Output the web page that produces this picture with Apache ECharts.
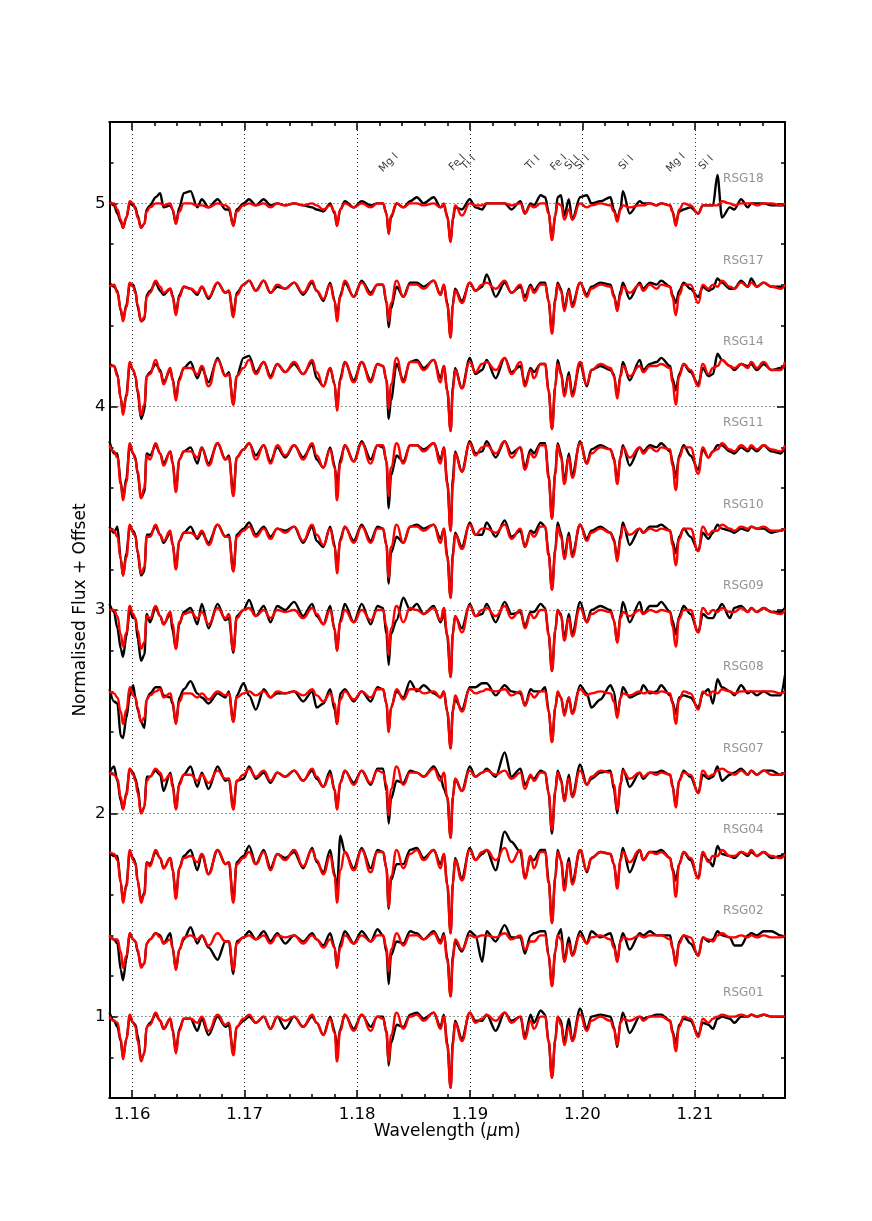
<!DOCTYPE html>
<html>
<head>
<meta charset="utf-8">
<style>
  html, body { margin: 0; background: #fff; }
  #main { width: 872px; height: 1221px; }
</style>
<script src="https://cdn.jsdelivr.net/npm/echarts@6/dist/echarts.min.js"></script>
</head>
<body>
<div id="main"></div>
<script>
// wavelength grid in micron, ten per row
const wavelengths = [
  1.1580,1.1584,1.1587,1.1590,1.1592,1.1595,1.1598,1.1601,1.1603,1.1605,
  1.1608,1.1611,1.1613,1.1616,1.1621,1.1625,1.1628,1.1634,1.1636,1.1639,
  1.1642,1.1646,1.1652,1.1658,1.1662,1.1668,1.1676,1.1683,1.1686,1.1690,
  1.1693,1.1699,1.1704,1.1710,1.1717,1.1723,1.1729,1.1736,1.1744,1.1752,
  1.1760,1.1764,1.1770,1.1776,1.1780,1.1782,1.1785,1.1789,1.1797,1.1804,
  1.1812,1.1818,1.1823,1.1826,1.1828,1.1830,1.1835,1.1841,1.1847,1.1853,
  1.1859,1.1868,1.1874,1.1877,1.1880,1.1883,1.1885,1.1887,1.1893,1.1900,
  1.1905,1.1911,1.1915,1.1923,1.1931,1.1937,1.1945,1.1949,1.1954,1.1957,
  1.1963,1.1967,1.1970,1.1973,1.1976,1.1978,1.1981,1.1984,1.1988,1.1991,
  1.1998,1.2004,1.2008,1.2016,1.2025,1.2028,1.2031,1.2034,1.2036,1.2042,
  1.2051,1.2054,1.2060,1.2066,1.2070,1.2078,1.2080,1.2083,1.2086,1.2090,
  1.2096,1.2103,1.2107,1.2112,1.2116,1.2120,1.2124,1.2131,1.2135,1.2141,
  1.2147,1.2150,1.2155,1.2161,1.2168,1.2176,1.2180
]

// flux minus 1, in hundredths. obs = black spectrum, mod = red model
const obs18 = [
  1,-1,-5,-9,-12,-7,0,-1,-2,-6,
  -12,-10,-3,-1,3,5,-2,-1,-3,-10,
  -2,5,6,-2,2,-2,2,-3,-3,-11,
  -3,0,2,-1,2,-1,0,-1,0,-1,
  -2,-3,-4,0,-5,-11,-3,1,-2,1,
  -1,0,0,-5,-15,-7,0,-2,1,3,
  0,3,-2,-1,-6,-19,-8,-2,-3,2,
  -2,-3,0,0,0,-3,1,-5,0,-1,
  4,3,-4,-18,-6,3,4,-6,2,-8,
  3,4,0,1,3,-3,-8,-2,6,-5,
  1,0,0,-1,0,-1,-4,-10,-4,-3,
  -2,-5,-1,-1,-1,14,-7,-2,-3,2,
  -2,0,0,0,-1,-1,-1
]
const mod18 = [
  0,0,-3,-8,-12,-7,1,0,-3,-7,
  -12,-10,-4,-2,0,0,-1,0,-3,-10,
  -4,0,0,-1,-1,-2,0,-1,-2,-11,
  -4,-1,0,-1,0,-2,0,-1,0,-1,
  0,-1,-3,-1,-4,-11,-3,0,-2,0,
  -2,0,0,-5,-15,-6,0,-2,0,0,
  -1,0,-2,0,-7,-19,-7,-1,-6,0,
  -1,-1,0,0,0,-1,0,-5,-1,-2,
  0,0,-5,-18,-6,0,-1,-8,-3,-8,
  0,-2,-1,0,-1,-4,-9,-3,-1,-2,
  -1,-1,0,-1,0,-1,-4,-11,-3,0,
  -1,-5,-1,-1,-1,-1,1,0,-1,0,
  0,0,-1,0,0,-1,0
]
const obs17 = [
  1,-1,-3,-13,-17,-10,0,0,-3,-11,
  -18,-17,-5,-3,1,-3,-5,-2,-5,-14,
  -5,-1,-2,-5,-1,-7,1,-4,-3,-15,
  -4,0,2,-3,2,-4,-1,-2,1,-5,
  1,-3,-8,1,-8,-16,-5,1,-6,2,
  -4,0,0,-9,-21,-12,-1,-6,1,1,
  -1,2,-5,0,-9,-26,-9,-2,-8,1,
  -3,-1,5,-6,1,-4,-1,-6,0,-3,
  1,1,-8,-24,-7,1,-2,-12,-2,-10,
  1,-5,-1,1,0,-5,-12,-3,1,-7,
  1,-2,1,0,2,-1,-5,-9,-3,1,
  -2,-6,-1,-3,-2,3,1,-2,-2,2,
  -1,3,-1,1,-1,-1,-1
]
const mod17 = [
  -1,0,-4,-12,-18,-11,1,-1,-4,-10,
  -18,-16,-6,-4,2,-1,-4,-2,-6,-15,
  -6,-1,-2,-4,-1,-6,1,-4,-3,-16,
  -5,0,2,-3,2,-4,0,-2,1,-4,
  2,-3,-7,0,-8,-18,-6,2,-6,1,
  -5,0,0,-8,-18,-9,2,-6,0,0,
  -2,2,-5,0,-10,-26,-10,-3,-9,1,
  -3,0,1,-2,2,-4,0,-8,-1,-4,
  0,0,-8,-24,-8,0,-3,-13,-3,-11,
  1,-6,-2,0,-1,-6,-13,-5,-1,-4,
  0,-3,0,-2,0,-1,-6,-15,-5,0,
  0,-9,0,-2,0,-1,2,-1,-2,1,
  -1,1,-1,1,-1,-2,0
]
const obs14 = [
  1,0,-4,-16,-23,-14,1,-2,-5,-13,
  -26,-22,-5,-3,1,-2,-8,-2,-6,-16,
  -6,-1,2,-6,-1,-8,4,-5,-3,-19,
  -5,4,5,-3,2,-5,1,-3,1,-4,
  2,-6,-10,-1,-9,-21,-6,2,-7,2,
  -7,1,0,-7,-26,-17,1,-7,2,3,
  -1,3,-6,0,-12,-32,-10,-1,-11,4,
  -4,-2,3,-6,4,-3,0,-9,-1,-3,
  1,1,-12,-31,-10,3,-3,-14,-3,-14,
  1,-10,-2,0,-2,-4,-15,-4,2,-7,
  3,-2,1,2,4,0,-6,-12,-4,1,
  -3,-9,-1,-5,-4,6,3,0,-2,1,
  0,1,-2,1,-2,-1,0
]
const mod14 = [
  0,0,-5,-16,-24,-15,2,-2,-5,-12,
  -24,-19,-5,-4,3,-3,-9,-1,-7,-17,
  -7,-1,-1,-4,0,-10,3,-5,-4,-19,
  -5,-1,3,-4,2,-6,1,-3,2,-4,
  3,-3,-10,-1,-9,-22,-7,2,-8,2,
  -8,1,0,-7,-21,-9,4,-8,2,2,
  -2,3,-8,0,-12,-32,-12,-2,-11,2,
  -3,1,2,-2,4,-4,2,-10,-2,-6,
  1,1,-12,-31,-10,1,-4,-15,-5,-15,
  2,-9,-2,1,-1,-5,-16,-5,0,-5,
  0,-3,0,0,1,-1,-8,-19,-5,1,
  -2,-10,1,-4,-1,0,3,0,-1,1,
  -1,2,-1,2,-2,-2,2
]
const obs11 = [
  3,-3,-3,-17,-25,-15,1,-3,-5,-13,
  -25,-22,-3,-4,1,-3,-8,-2,-7,-21,
  -6,-2,0,-8,0,-8,2,-6,-4,-23,
  -5,-1,2,-4,1,-7,0,-5,1,-5,
  1,-6,-10,0,-9,-19,-6,1,-7,3,
  -6,1,0,-7,-30,-14,-4,-7,1,1,
  -1,2,-6,0,-17,-41,-15,-2,-12,3,
  -3,-2,3,-5,3,-3,0,-10,-1,-3,
  2,2,-14,-35,-12,2,-3,-17,-3,-14,
  3,-8,-1,1,-1,-5,-17,-4,1,-9,
  0,-2,1,0,2,-2,-7,-15,-4,1,
  -4,-11,-1,-5,-2,1,1,-2,-3,0,
  -2,0,-2,1,-2,-3,0
]
const mod11 = [
  1,-2,-5,-18,-26,-17,2,-3,-6,-12,
  -25,-20,-4,-6,2,-3,-9,-2,-8,-22,
  -6,-2,-2,-5,0,-9,2,-6,-5,-24,
  -5,-1,2,-6,1,-8,1,-4,1,-6,
  2,-4,-10,-1,-10,-26,-8,1,-7,2,
  -8,1,1,-7,-24,-10,2,-8,1,1,
  -2,2,-8,0,-18,-41,-18,-3,-12,2,
  -4,0,1,-3,3,-5,0,-11,-3,-5,
  1,1,-15,-35,-13,1,-5,-18,-5,-15,
  2,-8,-3,0,-1,-6,-18,-5,0,-5,
  0,-3,0,-2,0,-1,-9,-21,-5,0,
  0,-13,0,-5,-2,-1,2,-1,-2,1,
  -1,1,-1,1,-1,-2,1
]
const obs10 = [
  1,-2,1,-15,-23,-12,1,-1,-3,-12,
  -23,-21,-3,-3,1,-3,-7,-2,-7,-19,
  -6,-2,1,-5,-2,-7,2,-4,-3,-21,
  -3,0,3,-3,1,-4,0,-1,1,-7,
  1,-6,-9,1,-8,-20,-5,1,-6,2,
  -6,1,0,-8,-27,-12,-4,-7,1,2,
  0,2,-5,0,-13,-34,-12,-2,-9,3,
  -3,-3,3,-4,4,-4,-1,-9,-1,-2,
  3,1,-12,-30,-10,3,-2,-14,-2,-13,
  2,-5,-1,1,-2,-5,-15,-3,3,-8,
  0,-2,1,1,2,-1,-6,-12,-4,0,
  -4,-11,-2,-5,-2,2,0,-1,-2,0,
  -1,1,0,0,-2,-1,0
]
const mod10 = [
  0,-1,-4,-15,-23,-14,2,-2,-4,-11,
  -22,-19,-4,-4,2,-3,-6,-1,-8,-20,
  -6,-2,-2,-4,-1,-8,2,-4,-4,-21,
  -4,-1,1,-4,0,-5,0,-2,1,-6,
  2,-3,-8,0,-9,-22,-6,1,-7,1,
  -7,0,0,-8,-24,-9,2,-7,1,1,
  -1,2,-7,0,-14,-34,-14,-3,-10,2,
  -3,0,0,-2,2,-5,0,-9,-2,-4,
  1,1,-13,-30,-11,1,-4,-15,-4,-14,
  2,-6,-2,0,-2,-6,-16,-5,1,-3,
  0,-2,0,-1,0,-1,-8,-18,-5,0,
  0,-11,1,-3,-1,-1,2,0,-1,1,
  0,1,0,1,-1,-1,0
]
const obs09 = [
  3,-1,-9,-19,-23,-13,0,-4,-4,-14,
  -25,-22,-2,-6,1,-3,-7,-2,-10,-19,
  -7,-1,1,-7,3,-9,3,-5,-4,-21,
  -3,0,5,-3,2,-6,2,0,4,-3,
  3,-3,-7,2,-10,-20,-5,3,-6,3,
  -7,2,1,-12,-27,-12,-5,6,0,3,
  -2,2,-6,-2,-13,-33,-11,-3,-9,3,
  -3,-2,3,-6,4,-2,-1,-8,-1,-1,
  3,1,-12,-30,-10,0,-2,-14,-2,-12,
  4,-6,0,2,0,-5,-16,-2,4,-6,
  4,-2,2,2,4,-1,-5,-12,-3,2,
  -2,-11,-2,-4,-4,0,3,-4,1,2,
  -1,1,-1,1,-1,-1,1
]
const mod09 = [
  0,0,-3,-12,-18,-11,2,-2,-4,-10,
  -19,-16,-3,-4,2,-3,-7,-1,-7,-19,
  -6,-2,-1,-4,-1,-7,1,-4,-2,-20,
  -4,0,1,-3,0,-4,0,-1,0,-4,
  1,-2,-7,0,-9,-20,-6,0,-6,0,
  -5,0,0,-8,-22,-9,2,-6,1,0,
  -2,1,-5,1,-12,-33,-12,-3,-11,2,
  -3,0,1,-3,2,-4,0,-9,-2,-4,
  0,0,-12,-30,-10,0,-3,-15,-4,-13,
  1,-6,-2,0,-1,-5,-16,-4,-1,-3,
  0,-2,0,-1,0,-1,-8,-18,-4,0,
  0,-11,1,-2,0,-1,1,-1,-1,1,
  -1,1,-1,1,-1,-2,0
]
const obs08 = [
  1,-5,-6,-22,-23,-13,-2,3,-3,-9,
  -15,-18,-4,-1,2,2,-2,-3,-6,-16,
  -3,1,5,-1,-3,-6,-1,-3,0,-15,
  -2,4,-2,-9,1,-3,-1,-1,0,-5,
  0,-8,-6,1,-9,-16,-1,1,-5,0,
  -5,2,1,-6,-20,-8,0,-3,5,0,
  3,-1,-3,0,-10,-28,-9,-4,-9,2,
  2,4,4,-2,3,0,-1,-7,1,0,
  0,2,-9,-25,-8,-1,-3,-11,-3,-11,
  3,-1,-8,-4,3,0,-12,-3,2,-3,
  -1,3,-1,0,3,-2,-5,-11,-3,-2,
  -3,-8,-1,1,-6,6,2,0,-2,3,
  -1,0,-2,0,-2,-2,8
]
const mod08 = [
  0,-1,-3,-10,-16,-9,2,-2,-3,-8,
  -15,-13,-4,-2,0,1,-3,-1,-5,-16,
  -5,-1,-1,-3,-1,-4,0,-2,-1,-15,
  -3,-1,0,-2,0,-3,0,-1,0,-2,
  1,-2,-5,-1,-6,-16,-4,0,-4,0,
  -3,1,1,-6,-20,-8,1,-4,1,1,
  -1,0,-3,0,-10,-28,-10,-2,-10,1,
  -1,0,1,0,1,-2,0,-7,-1,-3,
  0,0,-10,-25,-8,0,-3,-12,-3,-11,
  1,-2,-1,0,-1,-5,-13,-3,-1,-2,
  0,-1,0,-1,0,-1,-6,-16,-4,0,
  -1,-9,0,-2,0,-1,1,0,-1,0,
  0,0,0,0,0,-1,0
]
const obs07 = [
  0,3,-4,-14,-18,-10,2,0,-3,-7,
  -20,-17,-2,-2,1,-1,-9,0,-5,-18,
  -5,-1,3,-7,0,-8,3,-4,-3,-18,
  -4,-3,3,-3,0,-5,0,-2,1,-4,
  1,-3,-7,1,-9,-18,-5,1,-5,1,
  -6,2,2,-9,-25,-13,-4,-5,1,0,
  -2,3,-2,-8,-12,-32,-12,-3,-9,3,
  -2,0,2,-2,10,-2,2,-6,-2,-3,
  1,0,-10,-30,-9,1,-3,-14,-1,-12,
  4,-6,-3,0,1,-8,-20,-6,2,-7,
  0,-3,0,0,1,-1,-6,-16,-4,1,
  -2,-10,-1,-3,-2,3,-4,-1,0,2,
  -1,1,-1,1,1,-1,0
]
const mod07 = [
  0,-1,-3,-12,-18,-11,2,-1,-4,-10,
  -20,-17,-4,-2,2,0,-4,-1,-7,-18,
  -6,-1,-1,-4,-1,-5,1,-3,-3,-18,
  -4,-1,2,-2,1,-4,0,-2,1,-4,
  2,-2,-7,-1,-8,-18,-5,1,-6,1,
  -5,1,0,-6,-21,-8,3,-6,0,0,
  -2,2,-4,0,-12,-32,-12,-3,-9,1,
  -2,0,1,-1,1,-3,0,-8,-1,-4,
  0,0,-10,-28,-9,0,-4,-14,-3,-12,
  1,-6,-2,1,0,-6,-18,-5,1,-3,
  0,-2,0,-1,0,-1,-7,-17,-4,0,
  -1,-10,1,-2,-1,1,2,0,-1,1,
  -1,1,-1,1,-1,-1,0
]
const obs04 = [
  1,-1,-1,-14,-23,-15,1,-2,-4,-13,
  -23,-19,-4,-5,1,-2,-7,-2,-7,-21,
  -7,-1,2,-8,0,-10,2,-5,-4,-23,
  -4,-1,4,-5,2,-7,0,-2,1,-7,
  3,-4,-9,2,-10,-18,9,1,-7,3,
  -7,2,1,-7,-27,-13,-5,-5,2,3,
  -2,2,-5,0,-15,-39,-14,-2,-12,3,
  -3,0,2,-8,11,6,1,-12,-2,-3,
  2,2,-13,-34,-11,2,-3,-16,-2,-14,
  2,-9,-2,1,0,-5,-16,-2,3,-9,
  2,-3,1,1,2,-2,-7,-13,-5,1,
  -3,-12,0,-3,-6,4,0,-1,-2,1,
  -1,1,-1,1,-2,-1,0
]
const mod04 = [
  1,0,-3,-14,-24,-16,2,-3,-5,-13,
  -24,-20,-4,-6,2,-2,-7,-2,-8,-22,
  -7,-2,-1,-4,0,-10,2,-5,-4,-24,
  -5,-2,1,-5,1,-8,0,-3,2,-6,
  2,-3,-10,-1,-11,-24,-8,1,-8,2,
  -9,1,1,-7,-26,-11,2,-7,0,2,
  -3,2,-7,0,-15,-39,-15,-3,-13,2,
  -3,1,2,-3,3,-4,2,-12,-1,-7,
  1,1,-14,-34,-12,1,-3,-18,-4,-15,
  2,-8,-2,1,0,-5,-17,-3,1,-4,
  2,-3,1,0,1,-2,-8,-21,-5,1,
  -2,-12,1,-4,-1,-1,2,-1,-1,1,
  0,2,-1,1,-1,-2,0
]
const obs02 = [
  0,-2,-4,-17,-22,-12,1,-2,-3,-8,
  -15,-14,-4,-2,1,0,-4,1,-6,-17,
  -7,-2,4,-4,0,-6,-12,-3,-3,-19,
  -3,-1,2,-2,2,-3,1,-4,0,-3,
  1,-2,-5,1,-6,-16,-4,2,-4,2,
  -3,3,0,-8,-24,-10,-3,-4,2,1,
  -2,2,-3,1,-11,-30,-10,-3,-8,2,
  0,-13,2,-3,5,-1,-1,-9,0,1,
  2,2,-10,-25,-8,0,3,-13,-1,-10,
  2,-4,2,-1,1,-4,-13,-2,1,-7,
  1,0,2,0,0,0,-6,-14,-3,0,
  -4,-10,-1,-3,-2,2,0,-1,-5,-5,
  0,1,0,2,2,0,-1
]
const mod02 = [
  0,-2,-2,-8,-16,-10,1,-2,-3,-7,
  -16,-14,-4,-2,1,-1,-4,-2,-6,-17,
  -7,-1,0,-2,0,-5,1,-3,-3,-17,
  -4,-1,0,-2,0,-4,0,-1,0,-4,
  0,-2,-6,-2,-6,-16,-6,0,-4,0,
  -3,0,0,-6,-18,-7,1,-5,0,0,
  -2,1,-4,0,-12,-30,-12,-2,-7,0,
  -1,0,0,-1,1,-2,0,-7,-3,-3,
  0,0,-10,-25,-8,0,-2,-13,-4,-10,
  0,-4,-1,0,-2,-6,-13,-3,-1,-2,
  0,-1,0,0,0,-2,-6,-15,-4,0,
  -1,-10,-1,-2,-3,0,1,-1,-1,0,
  -1,0,-1,0,-1,-1,0
]
const obs01 = [
  2,-2,-5,-12,-20,-11,0,-3,-4,-9,
  -21,-18,-5,-3,1,-2,-6,-1,-6,-17,
  -6,-1,-1,-7,-1,-9,0,-5,-4,-18,
  -5,-2,0,-3,0,-6,0,-6,0,-5,
  0,-3,-9,0,-7,-16,-6,1,-6,1,
  -5,0,0,-8,-24,-13,-4,-5,1,2,
  -1,2,-5,1,-13,-35,-12,-2,-11,2,
  -2,-2,1,-7,2,-2,0,-10,1,-3,
  3,1,-12,-30,-11,0,-2,-13,-1,-12,
  4,-6,0,1,0,-5,-15,-2,2,-8,
  0,-1,0,1,1,-2,-7,-13,-4,-1,
  -2,-9,-3,-4,-6,-1,0,-1,-3,0,
  0,1,0,1,0,0,0
]
const mod01 = [
  0,-2,-3,-11,-21,-11,1,-3,-5,-12,
  -22,-18,-5,-4,2,-2,-6,-1,-7,-18,
  -7,-1,-1,-3,0,-7,1,-4,-3,-19,
  -5,-1,1,-3,0,-6,0,-2,0,-5,
  1,-3,-9,-1,-8,-22,-7,1,-7,1,
  -7,0,-1,-7,-22,-9,2,-6,0,1,
  -2,2,-6,0,-14,-35,-14,-3,-12,2,
  -3,-1,1,-2,2,-3,0,-11,-2,-6,
  0,0,-12,-30,-12,0,-4,-14,-5,-12,
  1,-7,-2,0,-2,-6,-14,-3,-1,-2,
  0,-2,0,0,0,-2,-8,-17,-5,0,
  -1,-10,-1,-3,-1,0,1,0,0,1,
  0,1,0,1,0,0,0
]

const stars = ['RSG18','RSG17','RSG14','RSG11','RSG10','RSG09','RSG08','RSG07','RSG04','RSG02','RSG01']
const offsets = [5.0,4.6,4.2,3.8,3.4,3.0,2.6,2.2,1.8,1.4,1.0]
const obsList = [obs18,obs17,obs14,obs11,obs10,obs09,obs08,obs07,obs04,obs02,obs01]
const modList = [mod18,mod17,mod14,mod11,mod10,mod09,mod08,mod07,mod04,mod02,mod01]

// spectral line ids along the top row
const lineNames = ['Mg I','Fe I','Ti I','Ti I','Fe I','Si I','Si I','Si I','Mg I','Si I']
const lineWaves = [1.1828,1.1889,1.1899,1.1956,1.1979,1.1991,1.2000,1.2039,1.2083,1.2110]

const xMajor = [1.16,1.17,1.18,1.19,1.20,1.21]
const xMinor = [1.158,1.162,1.164,1.166,1.168,1.172,1.174,1.176,1.178,1.182,1.184,1.186,1.188,1.192,1.194,1.196,1.198,1.202,1.204,1.206,1.208,1.212,1.214,1.216,1.218]
const yMajor = [1,2,3,4,5]
const yMinor = [0.6,0.8,1.2,1.4,1.6,1.8,2.2,2.4,2.6,2.8,3.2,3.4,3.6,3.8,4.2,4.4,4.6,4.8,5.2,5.4]

const xRange = { min: 1.158, max: 1.218 }
const yRange = { min: 0.6, max: 5.4 }
const font = 'DejaVu Sans'

const makeSeries = (values, offset, color, smooth) => ({
  type: 'line',
  xAxisIndex: 0,
  yAxisIndex: 0,
  symbol: 'none',
  smooth,
  smoothMonotone: 'x',
  silent: true,
  lineStyle: { color, width: 2.4, join: 'round' },
  data: wavelengths.map((w, i) => [w, +(offset + values[i] / 100).toFixed(2)])
})

const series = []
stars.forEach((name, i) => {
  series.push(makeSeries(obsList[i], offsets[i], '#000', 0.3))
  series.push(makeSeries(modList[i], offsets[i], '#f00', 0.5))
})

// star names on the right side
series.push({
  type: 'scatter',
  symbolSize: 0,
  silent: true,
  data: stars.map((name, i) => ({ value: [1.2125, offsets[i] + 0.118], name })),
  label: {
    show: true,
    position: 'right',
    distance: 0,
    formatter: '{b}',
    color: '#777',
    fontFamily: font,
    fontSize: 12
  }
})

// rotated line ids
series.push({
  type: 'scatter',
  symbolSize: 0,
  silent: true,
  data: lineNames.map((name, i) => ({ value: [lineWaves[i], 5.2], name })),
  label: {
    show: true,
    position: 'inside',
    rotate: 45,
    formatter: '{b}',
    color: '#000',
    fontFamily: font,
    fontSize: 10.5
  }
})

const border = { show: true, onZero: false, lineStyle: { color: '#000', width: 2 } }
const tickStyle = { color: '#000', width: 1.5 }

const makeAxis = (range, position, values, len, extra) => Object.assign({
  type: 'value',
  position,
  min: range.min,
  max: range.max,
  axisLine: border,
  axisTick: { show: true, inside: true, length: len, lineStyle: tickStyle, customValues: values },
  axisLabel: { show: false },
  splitLine: { show: false },
  silent: true
}, extra)

const dotted = { show: true, lineStyle: { color: '#333', width: 1, type: [1, 3] } }

const chart = echarts.init(document.getElementById('main'), null, { renderer: 'canvas' })
chart.setOption({
  animation: false,
  backgroundColor: '#fff',
  grid: { left: 109.5, right: 87, top: 122, bottom: 123 },
  xAxis: [
    makeAxis(xRange, 'bottom', xMajor, 8, {
      splitLine: dotted,
      axisLabel: {
        show: true,
        customValues: xMajor,
        margin: 8,
        color: '#000',
        fontFamily: font,
        fontSize: 16.5,
        formatter: v => v.toFixed(2)
      },
      name: 'Wavelength ({mu|μ}m)',
      nameLocation: 'middle',
      nameMoveOverlap: false,
      nameGap: 25,
      nameTextStyle: {
        color: '#000',
        fontFamily: font,
        fontSize: 17,
        rich: { mu: { fontStyle: 'italic', fontFamily: font, fontSize: 17, color: '#000' } }
      }
    }),
    makeAxis(xRange, 'bottom', xMinor, 4),
    makeAxis(xRange, 'top', xMajor, 8),
    makeAxis(xRange, 'top', xMinor, 4)
  ],
  yAxis: [
    makeAxis(yRange, 'left', yMajor, 8, {
      splitLine: dotted,
      axisLabel: {
        show: true,
        customValues: yMajor,
        margin: 4,
        color: '#000',
        fontFamily: font,
        fontSize: 16.5
      },
      name: 'Normalised Flux + Offset',
      nameLocation: 'middle',
      nameMoveOverlap: false,
      nameGap: 20,
      nameTextStyle: { color: '#000', fontFamily: font, fontSize: 17 }
    }),
    makeAxis(yRange, 'left', yMinor, 4),
    makeAxis(yRange, 'right', yMajor, 8),
    makeAxis(yRange, 'right', yMinor, 4)
  ],
  series
})
</script>
</body>
</html>
